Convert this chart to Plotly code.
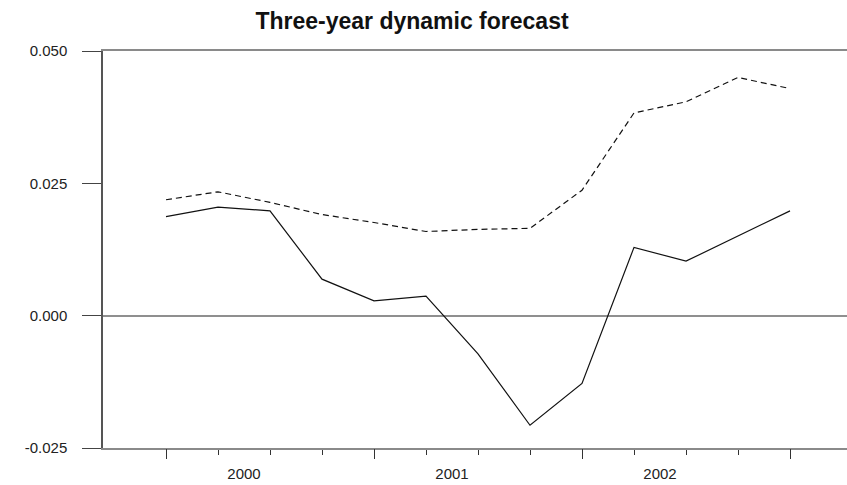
import plotly.graph_objects as go

quarters = ["2000Q1", "2000Q2", "2000Q3", "2000Q4",
            "2001Q1", "2001Q2", "2001Q3", "2001Q4",
            "2002Q1", "2002Q2", "2002Q3", "2002Q4", "2003Q1"]
actual = [0.0187, 0.0205, 0.0198, 0.0069, 0.0028, 0.0037, -0.0072,
          -0.0207, -0.0128, 0.0129, 0.0103, 0.0151, 0.0198]
forecast = [0.0219, 0.0234, 0.0214, 0.0191, 0.0176, 0.0159, 0.0163,
            0.0165, 0.0237, 0.0383, 0.0404, 0.0450, 0.0429]
year_labels = ["2000", "2001", "2002"]
year_centers = [1.5, 5.5, 9.5]
year_starts = [0, 4, 8, 12]
y_ticks = [-0.025, 0.0, 0.025, 0.050]
y_ticktext = ["-0.025", "0.000", "0.025", "0.050"]

x = list(range(len(quarters)))
xr = [-1.2115, 13.096]
FONT = "Liberation Sans, Arial, sans-serif"

fig = go.Figure()
fig.add_trace(go.Scatter(x=x, y=actual, mode="lines", name="Actual",
                         line=dict(color="#111111", width=1.2),
                         text=quarters, hoverinfo="text+y"))
fig.add_trace(go.Scatter(x=x, y=forecast, mode="lines", name="Forecast",
                         xaxis="x2",
                         line=dict(color="#111111", width=1.2, dash="6px,4px"),
                         text=quarters, hoverinfo="text+y"))

fig.update_layout(
    width=847, height=485,
    margin=dict(l=103, r=0, t=51, b=37),
    paper_bgcolor="white", plot_bgcolor="white",
    showlegend=False,
    font=dict(family=FONT, color="#222222", size=15),
    title=dict(text="<b>Three-year dynamic forecast</b>",
               font=dict(family=FONT, size=23, color="#111111"),
               xref="container", x=412 / 847, xanchor="center",
               yref="container", y=1 - 21 / 485, yanchor="middle"),
    xaxis=dict(range=xr, showline=True, mirror=True, linecolor="#8a8a8a",
               linewidth=1.5, showgrid=False, zeroline=False,
               tickmode="array", tickvals=year_centers, ticktext=year_labels,
               ticks="", ticklabelstandoff=11,
               tickfont=dict(family=FONT, size=15, color="#222222"),
               minor=dict(tickmode="array", tickvals=x, ticks="outside",
                          ticklen=5, tickwidth=1, tickcolor="#333333",
                          showgrid=False)),
    xaxis2=dict(range=xr, overlaying="x", anchor="y", side="bottom",
                showline=False, showgrid=False, zeroline=False,
                tickmode="array", tickvals=year_starts, ticks="outside",
                ticklen=10, tickwidth=1.2, tickcolor="#333333",
                showticklabels=False),
    yaxis=dict(range=[-0.025, 0.050], showline=True, linecolor="#555555",
               linewidth=1.5, showgrid=False, zeroline=True,
               zerolinecolor="#8f8f8f", zerolinewidth=1.6,
               tickmode="array", tickvals=y_ticks, ticktext=y_ticktext,
               ticks="outside", ticklen=19, tickwidth=1.2, tickcolor="#444444",
               ticklabelstandoff=12,
               tickfont=dict(family=FONT, size=15, color="#222222")),
)

fig.write_html("out.html")
